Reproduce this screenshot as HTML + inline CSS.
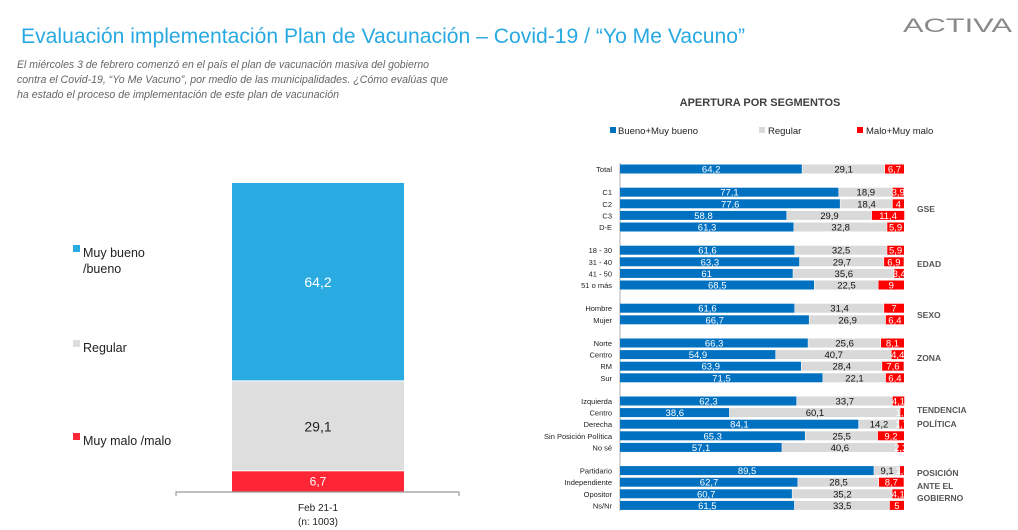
<!DOCTYPE html>
<html><head><meta charset="utf-8"><style>
html,body{margin:0;padding:0;background:#fff;width:1018px;height:530px;overflow:hidden}
svg{display:block;font-family:"Liberation Sans",sans-serif}
</style></head><body>
<svg id="s" width="1018" height="530" viewBox="0 0 1018 530">
<text x="21" y="43" font-size="21" fill="#29a9e1" textLength="724" lengthAdjust="spacingAndGlyphs">Evaluación implementación  Plan de Vacunación – Covid-19 / “Yo Me Vacuno”</text>
<text x="903" y="32" font-size="19" fill="#8a8a8a" textLength="109" lengthAdjust="spacingAndGlyphs">ACTIVA</text>
<g font-size="11" font-style="italic" fill="#666">
<text x="17" y="68" textLength="412" lengthAdjust="spacingAndGlyphs">El miércoles 3 de febrero comenzó en el país el plan de vacunación masiva del gobierno</text>
<text x="17" y="83" textLength="431" lengthAdjust="spacingAndGlyphs">contra el Covid-19, “Yo Me Vacuno”, por medio de las municipalidades. ¿Cómo evalúas que</text>
<text x="17" y="98" textLength="322" lengthAdjust="spacingAndGlyphs">ha estado el proceso de implementación de este plan de vacunación</text>
</g>
<g id="left"></g>
<text x="760" y="106" font-size="11" font-weight="bold" fill="#404040" text-anchor="middle">APERTURA POR SEGMENTOS</text>
<g font-size="9.5" fill="#222">
<rect x="610" y="127" width="6" height="6" fill="#0070c0"/><text x="618" y="134">Bueno+Muy bueno</text>
<rect x="759" y="127" width="6" height="6" fill="#d9d9d9"/><text x="768" y="134">Regular</text>
<rect x="857" y="127" width="6" height="6" fill="#ff0000"/><text x="866" y="134">Malo+Muy malo</text>
</g>
<g id="right"></g>
</svg>
<script>
const NS="http://www.w3.org/2000/svg";
const totalCats=["Muy bueno /bueno","Regular","Muy malo /malo"];
const totalVals=[64.2,29.1,6.7];
const segLabels=["Total","C1","C2","C3","D-E","18 - 30","31 - 40","41 - 50","51 o más","Hombre","Mujer","Norte","Centro","RM","Sur","Izquierda","Centro","Derecha","Sin Posición Política","No sé","Partidario","Independiente","Opositor","Ns/Nr"];
const segSlots=[0,2,3,4,5,7,8,9,10,12,13,15,16,17,18,20,21,22,23,24,26,27,28,29];
const bueno=[64.2,77.1,77.6,58.8,61.3,61.6,63.3,61,68.5,61.6,66.7,66.3,54.9,63.9,71.5,62.3,38.6,84.1,65.3,57.1,89.5,62.7,60.7,61.5];
const regular=[29.1,18.9,18.4,29.9,32.8,32.5,29.7,35.6,22.5,31.4,26.9,25.6,40.7,28.4,22.1,33.7,60.1,14.2,25.5,40.6,9.1,28.5,35.2,33.5];
const malo=[6.7,3.9,4,11.4,5.9,5.9,6.9,3.4,9,7,6.4,8.1,4.4,7.6,6.4,4.1,1.3,1.7,9.2,2.3,1.4,8.7,4.1,5];
const groups=[["GSE",212],["EDAD",267],["SEXO",318],["ZONA",361],["TENDENCIA",413],["POLÍTICA",427],["POSICIÓN",476],["ANTE EL",489],["GOBIERNO",501]];
function fmt(v){return String(v).replace('.',',');}
function el(p,tag,a,txt){const e=document.createElementNS(NS,tag);for(const k in a)e.setAttribute(k,a[k]);if(txt!==undefined)e.textContent=txt;p.appendChild(e);return e;}
// left chart (stacked from top: bueno, regular, malo)
const L=document.getElementById('left');
const ly=v=>183+v*3.09;
const lCols=["#29abe2","#dedede","#fd2636"];
const lTxt=["#fff","#222","#fff"];
const lLegY=[252,347,440];
let acc=0;
totalVals.forEach((v,i)=>{
 const y0=ly(acc),y1=ly(acc+v);
 const r=el(L,'rect',{x:232,y:y0,width:172,height:y1-y0-(i<2?1:0),fill:lCols[i]});
 
 
 const t=el(L,'text',{x:318,y:(y0+y1)/2+(i==2?4:5),'font-size':i==2?12:14,fill:lTxt[i],'text-anchor':'middle'},fmt(v));
 
 
 const sq=el(L,'rect',{x:73,y:lLegY[i]-7,width:7,height:7,fill:lCols[i]});
 
 
 acc+=v;
});
el(L,'text',{x:83,y:257,'font-size':12.5,fill:'#222'},"Muy bueno");
el(L,'text',{x:83,y:273,'font-size':12.5,fill:'#222'},"/bueno");
el(L,'text',{x:83,y:352,'font-size':12.5,fill:'#222'},"Regular");
el(L,'text',{x:83,y:445,'font-size':12.5,fill:'#222'},"Muy malo /malo");
el(L,'path',{d:'M176 496V492H459V496',stroke:'#999',fill:'none','stroke-width':1.2});
el(L,'text',{x:318,y:511,'font-size':10,fill:'#222','text-anchor':'middle'},"Feb 21-1");
el(L,'text',{x:318,y:525,'font-size':10,fill:'#222','text-anchor':'middle'},"(n: 1003)");
// right chart
const R=document.getElementById('right');
const X0=620,SC=2.84;
const xs=v=>X0+v*SC;
const rowY=s=>169+s*11.6;
el(R,'line',{x1:620,y1:163,x2:620,y2:511,stroke:'#bbb','stroke-width':1.2});
segLabels.forEach((lab,i)=>{
 const cy=rowY(segSlots[i]),h=9,y=cy-h/2;
 const segs=[bueno[i],regular[i],malo[i]];
 const cols=["#0070c0","#d9d9d9","#ff0000"],tc=["#fff","#111","#fff"];
 let a=0;
 segs.forEach((v,j)=>{
  const r=el(R,'rect',{x:xs(a),y:y,width:Math.max(0,xs(a+v)-xs(a)-(j<2?0.5:0)),height:h,fill:cols[j]});
  
  
  const t=el(R,'text',{x:(xs(a)+xs(a+v))/2,y:cy+3.5,'font-size':9.5,fill:tc[j],'text-anchor':'middle'},fmt(v));
  
  
  a+=v;
 });
 const lt=el(R,'text',{x:612,y:cy+3,'font-size':7.5,fill:'#222','text-anchor':'end'},lab);
 
 
});
groups.forEach(g=>{
 const t=el(R,'text',{x:917,y:g[1],'font-size':8.5,'font-weight':'bold',fill:'#555'},g[0]);
 
 
});
</script>
</body></html>
